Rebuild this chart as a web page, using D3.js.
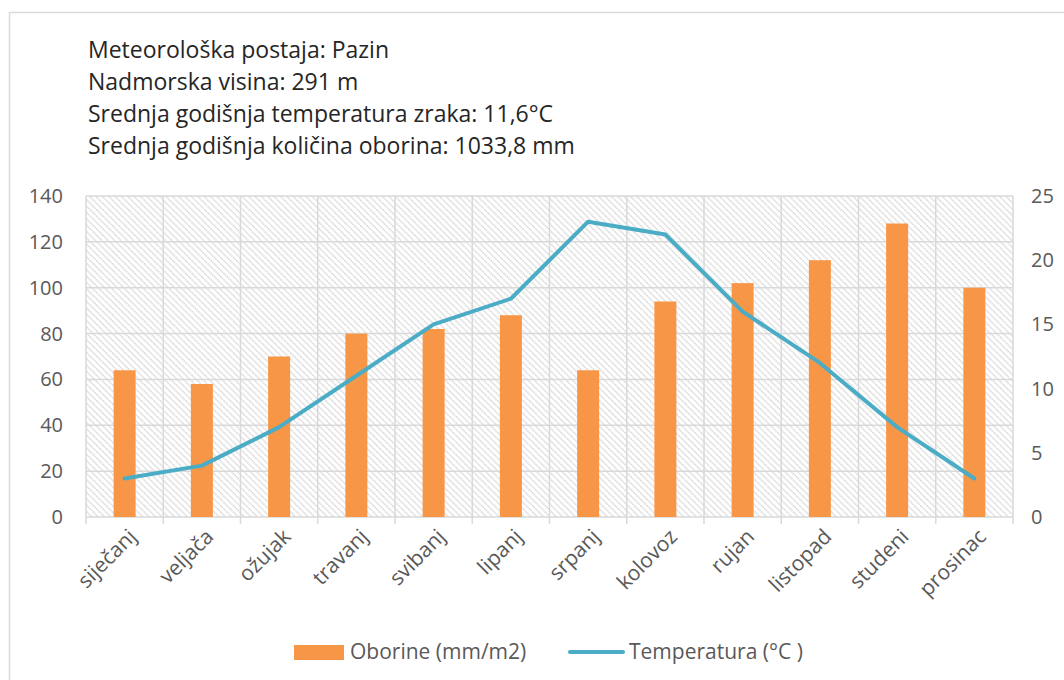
<!DOCTYPE html>
<html>
<head>
<meta charset="utf-8">
<script src="https://cdn.jsdelivr.net/npm/d3@7"></script>
<style>
  html, body { margin: 0; padding: 0; background: #fff; }
  svg text { font-family: "Open Sans", "Noto Sans", sans-serif; fill: #595959; }
</style>
</head>
<body>
<svg id="chart" width="1064" height="680"></svg>
<script>
// ── data ──
const months = ['siječanj', 'veljača', 'ožujak', 'travanj', 'svibanj', 'lipanj',
  'srpanj', 'kolovoz', 'rujan', 'listopad', 'studeni', 'prosinac'];
const oborine = [64, 58, 70, 80, 82, 88, 64, 94, 102, 112, 128, 100];
const temperatura = [3, 4, 7, 11, 15, 17, 23, 22, 16, 12, 7, 3];
const leftTicks = [0, 20, 40, 60, 80, 100, 120, 140];
const rightTicks = [0, 5, 10, 15, 20, 25];
const infoLines = [
  'Meteorološka postaja: Pazin',
  'Nadmorska visina: 291 m',
  'Srednja godišnja temperatura zraka: 11,6°C',
  'Srednja godišnja količina oborina: 1033,8 mm',
];
const legendItems = ['Oborine (mm/m2)', 'Temperatura (°C )'];

const BAR = '#f79646';
const LINE = '#4bacc6';
const GRID = '#d9d9d9';

const plot = { left: 86, right: 1013, top: 196, bottom: 517 };

const svg = d3.select('#chart');

// outer frame (runs off the right and bottom edge of the picture)
svg.append('rect')
  .attr('x', 9.5).attr('y', 12.5).attr('width', 1100).attr('height', 700)
  .attr('fill', '#fff').attr('stroke', GRID).attr('stroke-width', 1.5);

// hatch pattern for the plot background ("\" direction)
const defs = svg.append('defs');
const pat = defs.append('pattern')
  .attr('id', 'hatch').attr('patternUnits', 'userSpaceOnUse')
  .attr('width', 4.5).attr('height', 4.5)
  .attr('patternTransform', 'rotate(-45)');
pat.append('line')
  .attr('x1', 1).attr('y1', 0).attr('x2', 1).attr('y2', 4.5)
  .attr('stroke', '#d6d6d6').attr('stroke-width', 1.5)
  .attr('stroke-dasharray', '1.5 0.75');

// info text
svg.append('g').selectAll('text')
  .data(infoLines)
  .join('text')
  .attr('x', 88)
  .attr('y', (d, i) => 58 + i * 32)
  .attr('font-size', 23)
  .style('fill', '#262626')
  .text((d) => d);

const x = d3.scaleBand().domain(months).range([plot.left, plot.right]).paddingInner(0).paddingOuter(0);
const yL = d3.scaleLinear().domain([0, 140]).range([plot.bottom, plot.top]);
const yR = d3.scaleLinear().domain([0, 25]).range([plot.bottom, plot.top]);

// background
svg.append('rect')
  .attr('x', plot.left).attr('y', plot.top)
  .attr('width', plot.right - plot.left).attr('height', plot.bottom - plot.top)
  .attr('fill', 'url(#hatch)');

// horizontal gridlines
svg.append('g').selectAll('line')
  .data(leftTicks)
  .join('line')
  .attr('x1', plot.left).attr('x2', plot.right)
  .attr('y1', (d) => yL(d)).attr('y2', (d) => yL(d))
  .attr('stroke', GRID).attr('stroke-width', 1.5);

// vertical gridlines + tick marks at category boundaries
const bounds = months.map((m) => x(m)).concat([plot.right]);
svg.append('g').selectAll('line')
  .data(bounds)
  .join('line')
  .attr('x1', (d) => d).attr('x2', (d) => d)
  .attr('y1', plot.top).attr('y2', plot.bottom + 7)
  .attr('stroke', GRID).attr('stroke-width', 1.5);

// bars
const bw = 22;
svg.append('g').selectAll('rect')
  .data(oborine)
  .join('rect')
  .attr('x', (d, i) => x(months[i]) + x.bandwidth() / 2 - bw / 2)
  .attr('y', (d) => yL(d))
  .attr('width', bw)
  .attr('height', (d) => yL(0) - yL(d))
  .attr('fill', BAR);

// temperature line
const line = d3.line()
  .x((d, i) => x(months[i]) + x.bandwidth() / 2)
  .y((d) => yR(d));
svg.append('path')
  .datum(temperatura)
  .attr('d', line)
  .attr('fill', 'none')
  .attr('stroke', LINE)
  .attr('stroke-width', 4)
  .attr('stroke-linejoin', 'round')
  .attr('stroke-linecap', 'round');

// left axis labels
svg.append('g').selectAll('text')
  .data(leftTicks)
  .join('text')
  .attr('x', 63).attr('y', (d) => yL(d))
  .attr('dy', '0.35em')
  .attr('text-anchor', 'end')
  .attr('font-size', 20)
  .text((d) => d);

// right axis labels
svg.append('g').selectAll('text')
  .data(rightTicks)
  .join('text')
  .attr('x', 1031).attr('y', (d) => yR(d))
  .attr('dy', '0.35em')
  .attr('text-anchor', 'start')
  .attr('font-size', 20)
  .text((d) => d);

// month labels, rotated
svg.append('g').selectAll('text')
  .data(months)
  .join('text')
  .attr('text-anchor', 'end')
  .attr('font-size', 21)
  .attr('transform', (d) => `translate(${x(d) + x.bandwidth() / 2 + 13}, ${plot.bottom + 21}) rotate(-45)`)
  .text((d) => d);

// legend
const lg = svg.append('g');
lg.append('rect').attr('x', 294).attr('y', 645).attr('width', 50).attr('height', 15).attr('fill', BAR);
lg.append('text').attr('x', 350).attr('y', 652).attr('dy', '0.35em').attr('font-size', 21).text(legendItems[0]);
lg.append('line').attr('x1', 570).attr('x2', 623).attr('y1', 652).attr('y2', 652)
  .attr('stroke', LINE).attr('stroke-width', 4).attr('stroke-linecap', 'round');
lg.append('text').attr('x', 629).attr('y', 652).attr('dy', '0.35em').attr('font-size', 21).text(legendItems[1]);
</script>
</body>
</html>
